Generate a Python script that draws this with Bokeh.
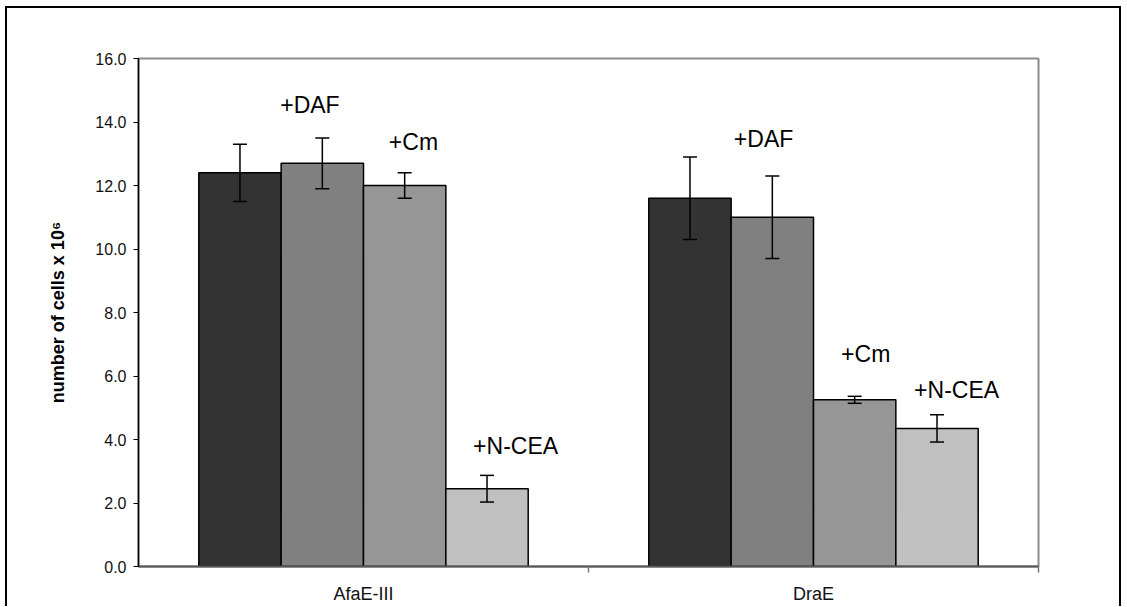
from bokeh.plotting import figure
from bokeh.models import ColumnDataSource, Whisker, TeeHead, FixedTicker, Range1d, NumeralTickFormatter
from bokeh.core.properties import value
from bokeh.embed import file_html
from bokeh.resources import INLINE

# ---- data ----
categories = ["AfaE-III", "DraE"]
treatments = ["control", "+DAF", "+Cm", "+N-CEA"]
afae_values = [12.4, 12.7, 12.0, 2.45]
afae_errors = [0.9, 0.8, 0.4, 0.42]
drae_values = [11.6, 11.0, 5.25, 4.35]
drae_errors = [1.3, 1.3, 0.11, 0.43]
y_ticks = [0, 2, 4, 6, 8, 10, 12, 14, 16]
y_title = "number of cells x 10\u2076"

# annotation labels
label_texts = ["+DAF", "+Cm", "+N-CEA", "+DAF", "+Cm", "+N-CEA"]
label_x = [0.381, 0.611, 0.838, 1.389, 1.616, 1.818]
label_y = [14.53, 13.36, 3.78, 13.46, 6.68, 5.57]

# ---- styles ----
bar_colors = ["#333333", "#808080", "#969696", "#c0c0c0"]
bar_w = 0.183
FONT = "Liberation Sans"
W, H = 1116, 600

values = [afae_values, drae_values]
errors = [afae_errors, drae_errors]
xs, tops, cols, ups, los = [], [], [], [], []
for ci in range(len(categories)):
    for j in range(len(treatments)):
        x = ci + 0.5 + (j - 1.5) * bar_w
        xs.append(x)
        tops.append(values[ci][j])
        cols.append(bar_colors[j])
        ups.append(values[ci][j] + errors[ci][j])
        los.append(values[ci][j] - errors[ci][j])
src = ColumnDataSource(dict(x=xs, top=tops, color=cols, upper=ups, lower=los))

p = figure(width=W, height=H, output_backend="svg", toolbar_location=None,
           x_range=Range1d(0, 2), y_range=Range1d(0, 16),
           min_border_left=133, min_border_top=52, min_border_right=83, min_border_bottom=40)
p.styles = {"margin-left": "5px", "margin-top": "6px",
            "box-shadow": "inset 2px 0 0 0 black, inset -2px 0 0 0 black, inset 0 2px 0 0 black"}
p.grid.visible = False
p.outline_line_color = "#8c8c8c"
p.outline_line_width = 2
p.background_fill_color = "white"
p.border_fill_color = None

p.vbar(x="x", top="top", bottom=0, width=bar_w, fill_color="color",
       line_color="black", line_width=1.5, source=src)

w = Whisker(source=src, base="x", upper="upper", lower="lower",
            line_color="black", line_width=1.5, level="overlay",
            upper_head=TeeHead(size=14, line_color="black", line_width=1.5),
            lower_head=TeeHead(size=14, line_color="black", line_width=1.5))
p.add_layout(w)

lsrc = ColumnDataSource(dict(x=label_x, y=label_y, t=label_texts))
p.text(x="x", y="y", text="t", source=lsrc, text_align="center", text_baseline="middle",
       text_font=value(FONT), text_font_size="23px", text_color="black")

# y axis
p.yaxis.ticker = FixedTicker(ticks=y_ticks)
p.yaxis.formatter = NumeralTickFormatter(format="0.0")
p.yaxis.axis_line_color = "black"
p.yaxis.axis_line_width = 1.5
p.yaxis.major_tick_line_color = "black"
p.yaxis.major_tick_in = 0
p.yaxis.major_tick_out = 5
p.yaxis.minor_tick_line_color = None
p.yaxis.major_label_text_font = FONT
p.yaxis.major_label_text_font_size = "16px"
p.yaxis.major_label_text_color = "#111111"
p.yaxis.major_label_standoff = 7
p.yaxis.axis_label = y_title
p.yaxis.axis_label_text_font = FONT
p.yaxis.axis_label_text_font_style = "bold"
p.yaxis.axis_label_text_font_size = "18px"
p.yaxis.axis_label_text_color = "black"
p.yaxis.axis_label_standoff = 24

# x axis
p.xaxis.ticker = FixedTicker(ticks=[0.5, 1.5], minor_ticks=[1, 2])
p.xaxis.major_label_overrides = {0.5: categories[0], 1.5: categories[1]}
p.xaxis.axis_line_color = "#555555"
p.xaxis.axis_line_width = 2
p.xaxis.major_tick_line_color = None
p.xaxis.major_tick_out = 0
p.xaxis.major_tick_in = 0
p.xaxis.minor_tick_line_color = "#777777"
p.xaxis.minor_tick_line_width = 1.5
p.xaxis.minor_tick_out = 6
p.xaxis.minor_tick_in = 0
p.xaxis.major_label_text_font = FONT
p.xaxis.major_label_text_font_size = "18px"
p.xaxis.major_label_text_color = "#111111"
p.xaxis.major_label_standoff = 11

open("out.html", "w").write(file_html(p, INLINE))
